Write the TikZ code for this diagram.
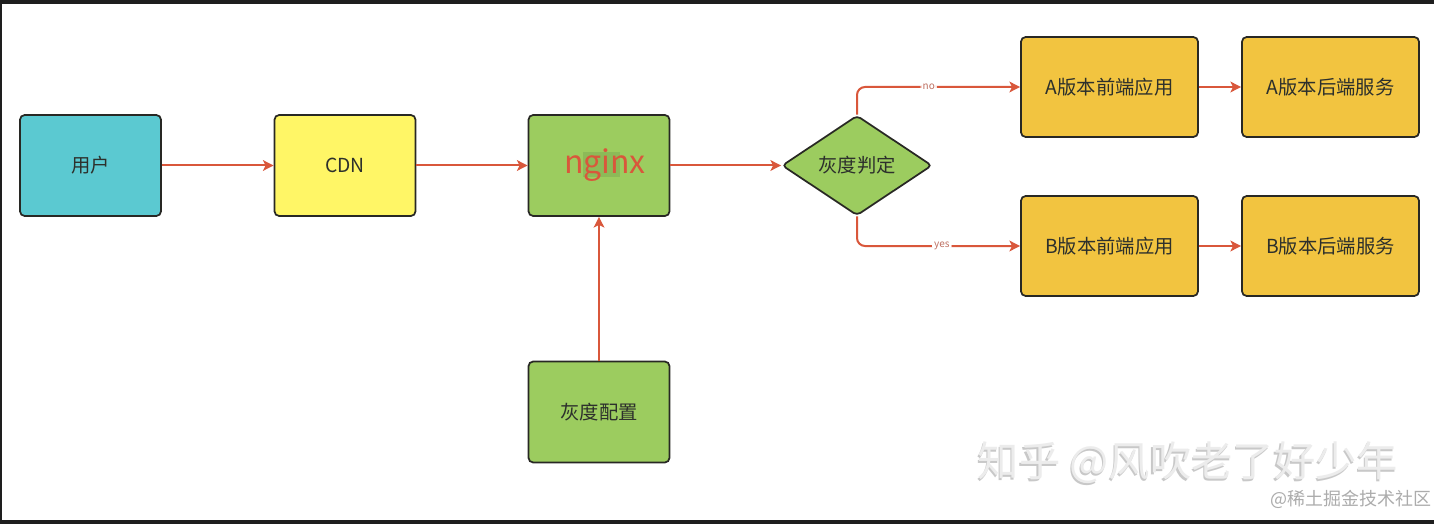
\documentclass[tikz,border=0pt]{standalone}
\usepackage{fontspec}
\setmainfont{Noto Sans CJK SC}
\usepackage{xcolor}
\definecolor{scrframe}{RGB}{30,30,30}
\definecolor{edge}{RGB}{40,40,36}
\definecolor{txt}{RGB}{45,48,44}
\definecolor{user}{RGB}{91,201,209}
\definecolor{cdn}{RGB}{255,246,102}
\definecolor{leaf}{RGB}{156,204,95}
\definecolor{gold}{RGB}{242,196,64}
\definecolor{link}{RGB}{217,87,59}
\definecolor{lbltxt}{RGB}{190,112,98}
\definecolor{hilite}{RGB}{140,186,88}
\definecolor{wmlight}{RGB}{236,236,236}
\definecolor{wmshade}{RGB}{200,200,200}
\definecolor{wmgray}{RGB}{172,172,172}
\usepackage{tikz}
\usetikzlibrary{positioning}
\usetikzlibrary{shapes.geometric}
\usetikzlibrary{arrows.meta}

\begin{document}
\begin{tikzpicture}[x=0.75pt,y=-0.75pt]
    \tikzstyle{every node}=[font=\fontsize{14.5}{16}\selectfont, text=txt]
    \tikzstyle{box}=[draw=edge, line width=1.3pt, rounded corners=3.5pt,
      minimum width=105.75pt, minimum height=75.75pt, inner sep=0pt]
    \tikzstyle{wide}=[box, fill=gold, minimum width=132.75pt, minimum height=75pt]
    \tikzstyle{flow}=[draw=link, line width=1.5pt,
      -{Stealth[length=8pt,width=8pt,inset=2pt]}]
    \tikzstyle{lbl}=[fill=white, font=\fontsize{7.5}{8}\selectfont, text=lbltxt, inner sep=1.5pt]

    % frame of the screenshot
    \fill[scrframe] (0,0) rectangle (1434,524);
    \fill[white] (2,4) rectangle (1434,520);

    \node[box, fill=user] (user) at (90.5,165.5) {用户};
    \node[box, fill=cdn] (cdn) at (345,165.5) {CDN};
    \node[box, fill=leaf] (nginx) at (599,165.5) {};
    \fill[hilite] (583,152) rectangle (620,177);
    \node[font=\fontsize{24}{25}\selectfont, text=link] (nginxtxt) at (605,165.5) {nginx};
    \node[box, fill=leaf] (conf) at (599,412) {灰度配置};

    \node[diamond, draw=edge, fill=leaf, line width=1.3pt, rounded corners=3pt,
      aspect=1.5, minimum width=112.5pt, minimum height=75pt, inner sep=0pt]
      (check) at (857,165.5) {灰度判定};

    \node[wide] (afront) at (1109.5,87) {A版本前端应用};
    \node[wide] (aback) at (1330.5,87) {A版本后端服务};
    \node[wide] (bfront) at (1109.5,246) {B版本前端应用};
    \node[wide] (bback) at (1330.5,246) {B版本后端服务};

    % connectors
    \draw[flow] (user) -- (cdn);
    \draw[flow] (cdn) -- (nginx);
    \draw[flow] (nginx) -- (check);
    \draw[flow] (conf) -- (nginx);
    \draw[flow, rounded corners=6pt] (check.north) |- (afront.west)
      node[pos=0.72, lbl] {no};
    \draw[flow, rounded corners=6pt] (check.south) |- (bfront.west)
      node[pos=0.76, lbl] {yes};
    \draw[flow] (afront) -- (aback);
    \draw[flow] (bfront) -- (bback);

    % watermarks
    \node[font=\fontsize{31}{32}\selectfont, text=wmshade] (wmback) at (1186.5,464.5) {知乎 @风吹老了好少年};
    \node[font=\fontsize{31}{32}\selectfont, text=wmlight] (wm) at (1188,463) {知乎 @风吹老了好少年};
    \node[anchor=east, font=\fontsize{13.5}{14}\selectfont, text=wmgray, inner sep=0pt] (site) at (1432,499) {@稀土掘金技术社区};
\end{tikzpicture}
\end{document}
